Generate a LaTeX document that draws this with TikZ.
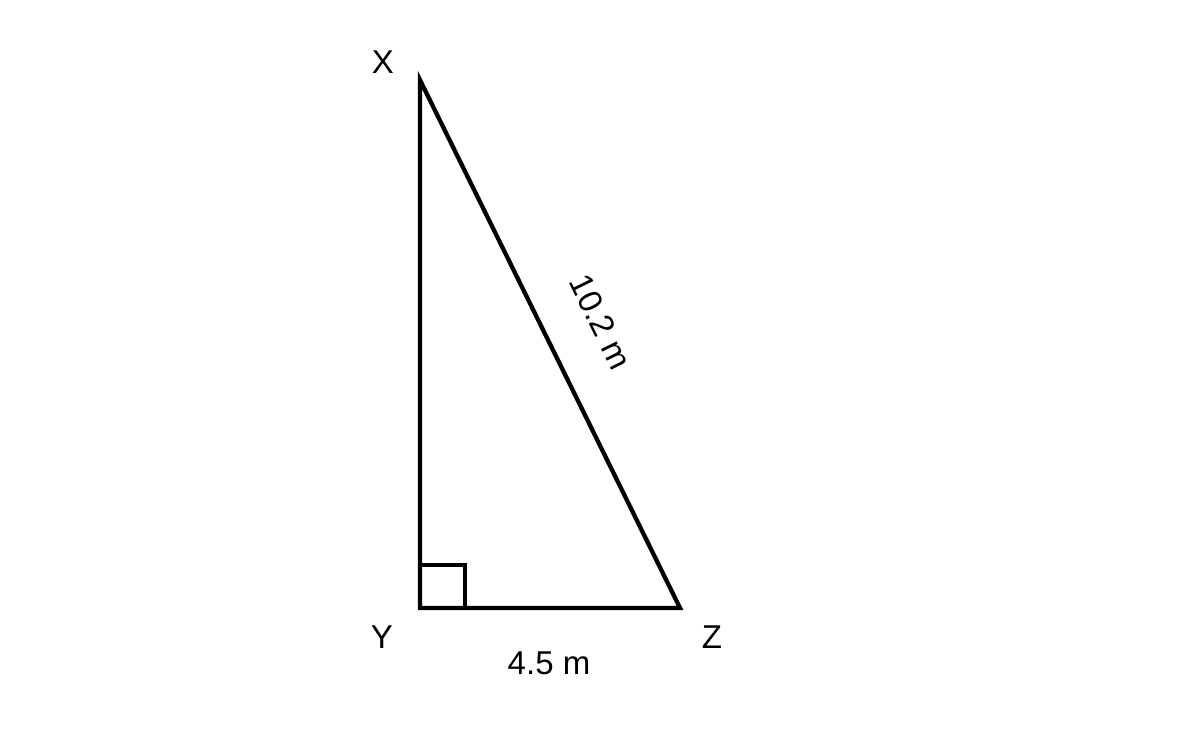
\documentclass[tikz,border=0pt]{standalone}
\usepackage{fontspec}
\setmainfont{Liberation Sans}
\begin{document}
\begin{tikzpicture}[x=1pt,y=-1pt,
  edge/.style={line width=4.3pt,line join=miter,black},
  lbl/.style={inner sep=0pt,font=\fontsize{33}{39}\selectfont}]
\useasboundingbox (0,0) rectangle (1200,750);
\coordinate (X) at (420,80);
\coordinate (Y) at (420,608);
\coordinate (Z) at (680,608);
\coordinate (s1) at (420,565);
\coordinate (s2) at (465,565);
\coordinate (s3) at (465,608);
\draw[edge] (X) -- (Y) -- (Z) -- cycle;
\draw[line width=3.8pt,line join=miter] (s1) -- (s2) -- (s3);
\node[lbl] (lx) at (383,62) {X};
\node[lbl] (ly) at (382,637) {Y};
\node[lbl] (lz) at (712,637) {Z};
\node[lbl] (lb) at (549,663.5) {4.5 m};
\node[lbl,rotate=-63.8] (lh) at (601,322) {10.2 m};
\end{tikzpicture}
\end{document}
